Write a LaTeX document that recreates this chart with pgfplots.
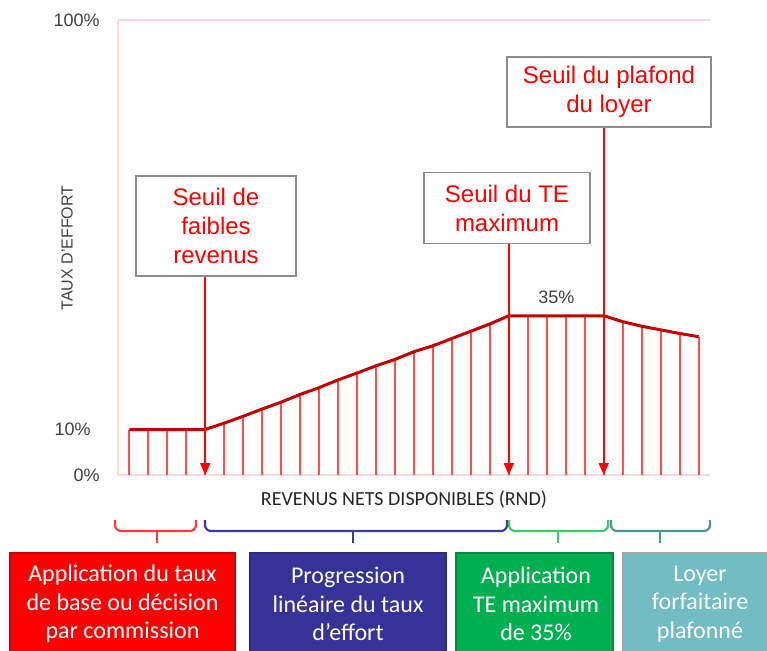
\documentclass[border=0pt]{standalone}
\usepackage{pgfplots}
\pgfplotsset{compat=1.18}
\usepackage{fontspec}
\setmainfont{Liberation Sans}
\newfontfamily\carlito{Carlito}
\usetikzlibrary{arrows.meta}
\definecolor{gridpink}{HTML}{FFD6D6}
\definecolor{curvered}{HTML}{C00000}
\definecolor{stemred}{HTML}{FF4D4D}
\definecolor{arrowred}{HTML}{FF0000}
\definecolor{txtgray}{HTML}{404040}
\definecolor{boxgray}{HTML}{8C8C8C}
\definecolor{bred}{HTML}{FF0000}
\definecolor{bredb}{HTML}{D00000}
\definecolor{bblue}{HTML}{333399}
\definecolor{bblueb}{HTML}{2A2A80}
\definecolor{bgreen}{HTML}{00B050}
\definecolor{bgreenb}{HTML}{008A3E}
\definecolor{bteal}{HTML}{72BCC4}
\definecolor{btealb}{HTML}{A0A8AA}
\definecolor{brcred}{HTML}{FF3B3B}
\definecolor{brcblue}{HTML}{3A3A9A}
\definecolor{brcgreen}{HTML}{3CCB6C}
\definecolor{brcteal}{HTML}{4B9499}

\pgfplotstableread{
x y
0 10
1 10
2 10
3 10
4 10
5 11.4
6 12.9
7 14.5
8 16.0
9 17.7
10 19.2
11 20.9
12 22.4
13 24.0
14 25.4
15 27.1
16 28.4
17 30.0
18 31.6
19 33.2
20 35
21 35
22 35
23 35
24 35
25 35
26 33.7
27 32.7
28 31.9
29 31.1
30 30.4
}\effort

\begin{document}
\begin{tikzpicture}[x=0.5pt,y=0.5pt]
\useasboundingbox (0,0) rectangle (767,650);
\begin{axis}[
  at={(59pt,87.5pt)}, anchor=south west,
  scale only axis, width=296pt, height=227.5pt,
  xmin=-0.595, xmax=30.6, ymin=0, ymax=100,
  axis x line=bottom, axis y line=left,
  axis line style={gridpink, line width=0.75pt, -},
  xtick=\empty,
  ytick={0,100}, yticklabels={0\%,100\%},
  extra y ticks={10}, extra y tick labels={10\%},
  extra y tick style={grid=none, yticklabel style={xshift=-4.5pt}},
  ymajorgrids, grid style={gridpink, line width=0.75pt},
  major tick length=0pt,
  /pgf/number format/assume math mode=true,
  yticklabel style={font=\fontsize{9}{10}\selectfont, text=txtgray, inner sep=0pt, xshift=-9pt},
  clip=false,
]
\addplot[ycomb, stemred, line width=0.9pt, no markers] table {\effort};
\addplot[curvered, line width=1.5pt, no markers] table {\effort};
\addplot[arrowred, line width=0.9pt, -{Triangle[width=5pt,length=6pt]}] coordinates {(4,43.7) (4,0)};
\addplot[arrowred, line width=0.9pt, -{Triangle[width=5pt,length=6pt]}] coordinates {(20,50.8) (20,0)};
\addplot[arrowred, line width=0.9pt, -{Triangle[width=5pt,length=6pt]}] coordinates {(25,76.5) (25,0)};
\node[font=\fontsize{9}{10}\selectfont, text=txtgray] at (axis cs:22.5,39.1) {35\%};
\end{axis}

\tikzset{sbox/.style={draw=boxgray, line width=0.75pt, fill=white, text=red,
  font=\fontsize{12}{14.5}\selectfont, align=center, inner sep=0pt}}
\node[sbox, minimum width=80pt, minimum height=50pt] at (216,424) {Seuil de\\faibles\\revenus};
\node[sbox, minimum width=83pt, minimum height=35.5pt] at (507,442) {Seuil du TE\\maximum};
\node[sbox, minimum width=102pt, minimum height=35pt] at (609,558) {Seuil du plafond\\du loyer};

\node[rotate=90, font=\fontsize{8}{9}\selectfont, text=txtgray] at (67,402) {TAUX D’EFFORT};
\node[font=\carlito\fontsize{10}{12}\selectfont, text=black!85] at (404,150) {REVENUS NETS DISPONIBLES (RND)};

\draw[brcred, line width=1.1pt, rounded corners=3pt] (115,130) -- (115,119) -- (196,119) -- (196,130);
\draw[brcred, line width=1.1pt] (157,119) -- (157,107);
\draw[brcblue, line width=1.1pt, rounded corners=3pt] (205,130) -- (205,119) -- (507,119) -- (507,130);
\draw[brcblue, line width=1.1pt] (353,119) -- (353,107);
\draw[brcgreen, line width=1.1pt, rounded corners=3pt] (509,130) -- (509,119) -- (608,119) -- (608,130);
\draw[brcgreen, line width=1.1pt] (558,119) -- (558,107);
\draw[brcteal, line width=1.1pt, rounded corners=3pt] (611,130) -- (611,119) -- (710,119) -- (710,130);
\draw[brcteal, line width=1.1pt] (660,119) -- (660,107);

\begin{scope}
\clip (0,0) rectangle (767,650);
\draw[fill=bred, draw=bredb, line width=0.75pt] (10,97) rectangle (235,-10);
\draw[fill=bblue, draw=bblueb, line width=0.75pt] (250,97) rectangle (446,-10);
\draw[fill=bgreen, draw=bgreenb, line width=0.75pt] (456,97) rectangle (613,-10);
\draw[fill=bteal, draw=btealb, line width=0.75pt] (623,97) rectangle (790,-10);
\end{scope}
\tikzset{cbox/.style={text=white, font=\carlito\fontsize{12}{14.25}\selectfont, align=center, inner sep=0pt}}
\node[cbox] at (122.5,46) {Application du taux\\de base ou décision\\par commission};
\node[cbox] at (348,46) {Progression\\linéaire du taux\\d’effort};
\node[cbox] at (536,46) {Application\\TE maximum\\de 35\%};
\node[cbox] at (700,46) {Loyer\\forfaitaire\\plafonné};
\end{tikzpicture}
\end{document}
